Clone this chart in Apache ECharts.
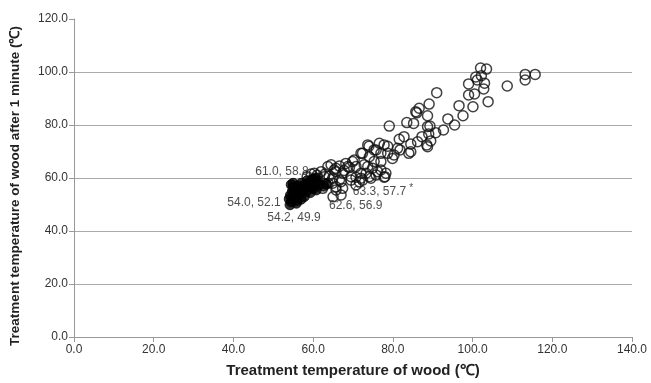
<!DOCTYPE html>
<html><head><meta charset="utf-8">
<script src="https://cdn.jsdelivr.net/npm/echarts@6/dist/echarts.min.js"></script>
<style>html,body{margin:0;padding:0;background:#fff}#c{width:651px;height:383px}</style>
</head><body><div id="c"></div>
<script>
var xTitle = 'Treatment temperature of wood (\u2103)';
var yTitle = 'Treatment temperature of wood after 1 minute (\u2103)';
var xTicks = [0, 20, 40, 60, 80, 100, 120, 140];
var yTicks = [0, 20, 40, 60, 80, 100, 120];

// open circles [wood temp, temp after 1 min]
var openPoints = [
[102,101.5],[103.5,101.1],[100.8,98.1],[102.2,98.6],[101.2,97],[103,95.8],[99,95.5],[102.8,93.6],[99,91.3],[100.5,91.7],
[108.7,94.7],[113.2,99.1],[113.2,97],[115.7,99.1],[103.9,88.8],[100.1,86.9],[96.6,87.3],[97.6,83.5],[93.8,82.3],[95.5,80],[92.7,78.1],
[91,92.2],[89.1,87.9],[86.6,86.3],[86,84.6],[88.7,83.5],[85.75,85],
[79.1,79.6],[83.5,80.9],[85.2,80.6],[89.3,79.6],[88.7,79.4],[90.75,77.1],[89,76.6],[87.3,75.6],[89.5,74],[88.5,72.5],[88.7,71.8],[86.2,73.7],
[82.8,75.6],[81.6,74.6],[84.5,72.8],[84.5,69.9],[81.8,70.6],[79.9,67.4],[77.8,72.5],[76.6,73.1],[75.8,70.6],[73.7,72.5],
[77,69.3],[78.7,69.3],[80.3,68.7],[74.1,68],[72.4,69.3],[75.3,66.2],[77,66.2],[72.8,65],[74.9,63.7],[77,63],[77.8,60.3],
[73.3,61.8],[75.8,61.1],[74,72],[78.7,72],[69.9,66.2],[68.2,65.5],[69.1,64],[66.6,64.5],[64.5,65],[65.7,62.4],[67.8,62.8],
[72,61.8],[70.75,60.3],[74.1,60.5],[76.2,62.4],[78,60.5],[71.6,58.6],[72,69.3],[68.7,64.3],[70.75,64.3],[63.7,64.3],[65.7,63.7],
[67.4,61.8],[69.5,60.5],[72,59.9],[70.75,57.4],[60.3,61.8],[61.2,59.9],[62,62.4],[62.8,60.5],[64.9,59.9],[66.6,59.2],[67.4,56.1],
[65.7,56.7],[63.7,58],[62.4,56.1],[67,53.6],[61.2,57.4],[59.9,59.2],[58.7,58],[57.4,56.1],[81.2,71.2],[84,69.3],[75.3,70.6],
[70.3,66.8],[65.3,63],[73.7,64.3],[78.25,61.8],[74.5,59.9],[72.4,59.2],[69.5,59.2],[67,58.6],[64.9,58],[65.75,55.5],
[58.5,60.5],[59.5,61.5],[61,61],[63,61.5],[64,60.8],[60.5,58.5],[65,52.9]
];
// filled circles
var filledPoints = [
[54.5,51],[54.3,53.5],[54.8,55],[55,56.5],[55.2,54],[55.5,52.5],[55.8,50.5],[56,55.5],[56.2,57],[56.5,53.5],
[56.8,56],[57,58],[57.2,54.5],[57.5,56.8],[57.8,53],[58,57.5],[58.3,55],[58.5,59],[58.8,56.5],[59,58],
[59.3,54.5],[59.5,57],[59.8,59.5],[60,56],[55,58],[54.5,57.5],[56,51.5],[57,52],[60.5,60],[61.5,57.5],[60.8,55.5]
];
// annotated points
var notePoints = [[61.0,58.8],[54.0,52.1],[54.2,49.9],[62.6,56.9],[63.3,57.7]];
var noteMarks = ['', '', '', '', '*'];

var notePos = [
  {position:'left', distance:3, offset:[0,-9]},
  {position:'left', distance:3, offset:[0,4]},
  {position:'bottom', distance:1, offset:[4,0]},
  {position:'right', distance:0, offset:[0,19]},
  {position:'right', distance:21, offset:[0,8]}
];

var chart = echarts.init(document.getElementById('c'));
var circleStyle = {color:'rgba(0,0,0,0)', borderColor:'#111', borderWidth:1.5};
var font = 'Liberation Sans, Arial';
chart.setOption({
  animation:false,
  grid:{left:72, right:19, top:19, bottom:46},
  xAxis:{
    type:'value', min:xTicks[0], max:xTicks[xTicks.length-1], interval:20,
    name:xTitle, nameLocation:'middle', nameGap:26,
    nameTextStyle:{fontFamily:font, fontSize:15, fontWeight:'bold', color:'#222'},
    axisLine:{lineStyle:{color:'#999', width:1}},
    axisTick:{show:true, length:5, lineStyle:{color:'#999'}},
    axisLabel:{formatter:function(v){return v.toFixed(1);}, fontFamily:font, fontSize:12, color:'#333', margin:7},
    splitLine:{show:false}
  },
  yAxis:{
    type:'value', min:yTicks[0], max:yTicks[yTicks.length-1], interval:20,
    name:yTitle, nameLocation:'middle', nameGap:52,
    nameTextStyle:{fontFamily:font, fontSize:13.5, fontWeight:'bold', color:'#222', padding:[0,16,0,0]},
    axisLine:{show:true, lineStyle:{color:'#999', width:1}},
    axisTick:{show:true, length:5, lineStyle:{color:'#999'}},
    axisLabel:{formatter:function(v){return v.toFixed(1);}, fontFamily:font, fontSize:12, color:'#333', margin:6},
    splitLine:{show:true, showMaxLine:false, lineStyle:{color:'#aaa', width:1}}
  },
  series:[
    {type:'scatter', symbol:'circle', symbolSize:10, data:openPoints, itemStyle:circleStyle, z:2},
    {type:'scatter', symbol:'circle', symbolSize:10, data:filledPoints, itemStyle:{color:'#000', borderColor:'#000', borderWidth:1}, z:3},
    {type:'scatter', symbol:'circle', symbolSize:10, itemStyle:{color:'#000', borderColor:'#000', borderWidth:1}, z:4,
     data:notePoints.map(function(p,i){
       var pos = notePos[i];
       return {value:p, label:{show:true, position:pos.position, distance:pos.distance, offset:pos.offset,
         formatter: p[0].toFixed(1)+', '+p[1].toFixed(1)+(noteMarks[i]?'{s|'+noteMarks[i]+'}':''),
         fontFamily:font, fontSize:12, color:'#222',
         rich:{s:{fontSize:10, verticalAlign:'top', padding:[0,0,8,3], color:'#222'}}}};
     })}
  ]
});
</script></body></html>
